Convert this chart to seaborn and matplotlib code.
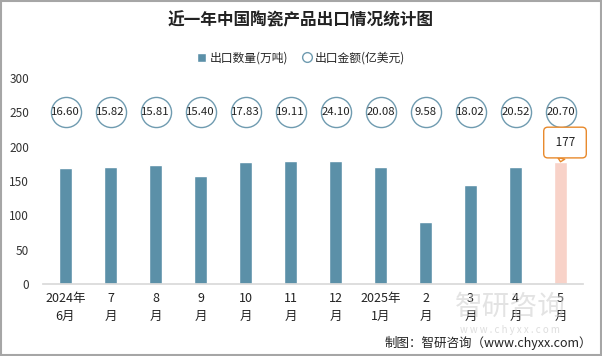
import numpy as np
import pandas as pd
import matplotlib
matplotlib.use("Agg")
import matplotlib.pyplot as plt
import seaborn as sns
from matplotlib.patches import Patch, Rectangle
from matplotlib.lines import Line2D

# data
months = ["2024年\n6月", "7\n月", "8\n月", "9\n月", "10\n月", "11\n月",
          "12\n月", "2025年\n1月", "2\n月", "3\n月", "4\n月", "5\n月"]
volume = [169, 171, 173, 158, 178, 179, 179, 170, 90, 144, 170, 177]   # 万吨
amount = [16.60, 15.82, 15.81, 15.40, 17.83, 19.11, 24.10, 20.08, 9.58, 18.02, 20.52, 20.70]  # 亿美元

sns.set_theme(style="white")
plt.rcParams['font.family'] = ['Noto Sans CJK SC', 'DejaVu Sans']

bar_col = "#5B90A8"
hi_col = "#F8D2C8"
colors = [bar_col] * (len(months) - 1) + [hi_col]

df = pd.DataFrame({"month": months, "volume": volume})

fig = plt.figure(figsize=(6.02, 3.56), dpi=100)
ax = fig.add_axes([43 / 602, 1 - 284 / 356, 540 / 602, 206 / 356])

sns.barplot(data=df, x="month", y="volume", hue="month", palette=colors,
            legend=False, width=0.31, saturation=1, ax=ax)

# circles for export amount, drawn on a fixed row
circle_y = 251
ax.scatter(range(len(amount)), [circle_y] * len(amount), s=470, facecolor="white",
           edgecolor="#6F9BB0", linewidth=1.0, zorder=3)
for i, a in enumerate(amount):
    ax.text(i, circle_y, f"{a:.2f}", ha="center", va="center", fontsize=8.2,
            color="#222222", zorder=4)

# callout on the latest bar
last = len(volume) - 1
ax.annotate(str(volume[last]), xy=(last, volume[last] + 1), xytext=(last + 0.1, volume[last] + 29),
            ha="center", va="center", fontsize=8.5, color="#222222",
            bbox=dict(boxstyle="round,pad=0.75,rounding_size=0.35", fc="white", ec="#E8892B", lw=1),
            arrowprops=dict(arrowstyle="wedge,tail_width=0.6", fc="white", ec="#E8892B", lw=1,
                            shrinkA=0, shrinkB=0))
ax.texts[-1].set_text(" 177 ".replace("177", str(volume[last])))

ax.set_ylim(0, 300)
ax.set_xlim(-0.5, len(months) - 0.5)
ax.set_yticks(range(0, 301, 50))
ax.set_xlabel("")
ax.set_ylabel("")
ax.tick_params(axis="y", labelsize=8.5, colors="#333333", length=0, pad=10)
ax.tick_params(axis="x", labelsize=9, colors="#222222", length=0, pad=6)
for lab in ax.get_xticklabels():
    lab.set_linespacing(1.5)
for s in ["top", "right", "left"]:
    ax.spines[s].set_visible(False)
ax.spines["bottom"].set_color("#D9D9D9")

# legend
handles = [Patch(facecolor=bar_col, label="出口数量(万吨)"),
           Line2D([], [], marker="o", linestyle="", markerfacecolor="white",
                  markeredgecolor="#6F9BB0", markersize=7, label="出口金额(亿美元)")]
fig.legend(handles=handles, loc="center", bbox_to_anchor=(0.5, 1 - 58 / 356), ncol=2,
           frameon=False, fontsize=8.5, handlelength=0.8, handletextpad=0.3, columnspacing=1.2)

fig.text(0.5, 1 - 20 / 356, "近一年中国陶瓷产品出口情况统计图", ha="center", va="center",
         fontsize=12, fontweight="bold", color="#222222")

# watermark and source
fig.text(510 / 602, 1 - 307 / 356, "智研咨询", ha="center", va="center", fontsize=20,
         color="#C8C8C8", alpha=0.5, zorder=0)
fig.text(510 / 602, 1 - 330 / 356, "w w w . c h y x x . c o m", ha="center", va="center",
         fontsize=7, color="#C8C8C8", alpha=0.6, zorder=0)
fig.text(592 / 602, 1 - 343 / 356, "制图：智研咨询（www.chyxx.com）", ha="right", va="center",
         fontsize=9, color="#222222")

fig.patches.append(Rectangle((0.001, 0.002), 0.997, 0.996, transform=fig.transFigure,
                             fill=False, ec="#A6A6A6", lw=1.5))

fig.savefig("out.png", dpi=100)
